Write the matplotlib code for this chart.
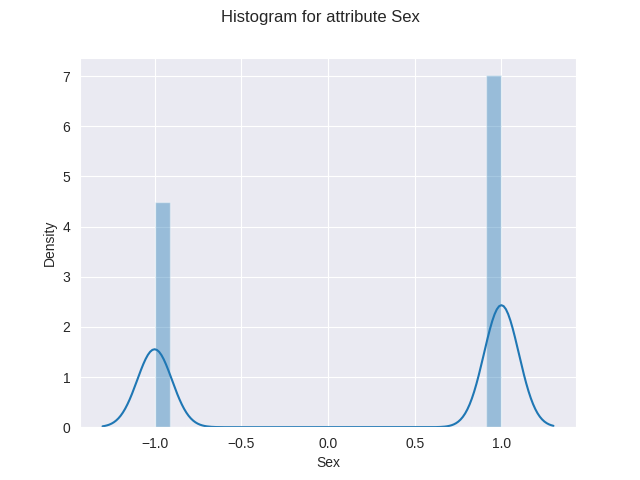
import warnings
import numpy as np
import matplotlib
matplotlib.use('Agg')
import matplotlib.pyplot as plt
import seaborn as sns

warnings.filterwarnings('ignore')

# encoded Sex attribute: -1 / 1 and how many rows have each value
sex_values = [-1, 1]
sex_counts = [34300, 53700]

sex = np.repeat(sex_values, sex_counts).astype(float)

sns.set_style('darkgrid')
plt.rcParams['font.family'] = ['Liberation Sans', 'DejaVu Sans']
fig = plt.figure(figsize=(6.4, 4.8), dpi=100)
ax = sns.distplot(sex)
ax.set_xlabel('Sex')
fig.suptitle('Histogram for attribute Sex')
fig.savefig('out.png')
